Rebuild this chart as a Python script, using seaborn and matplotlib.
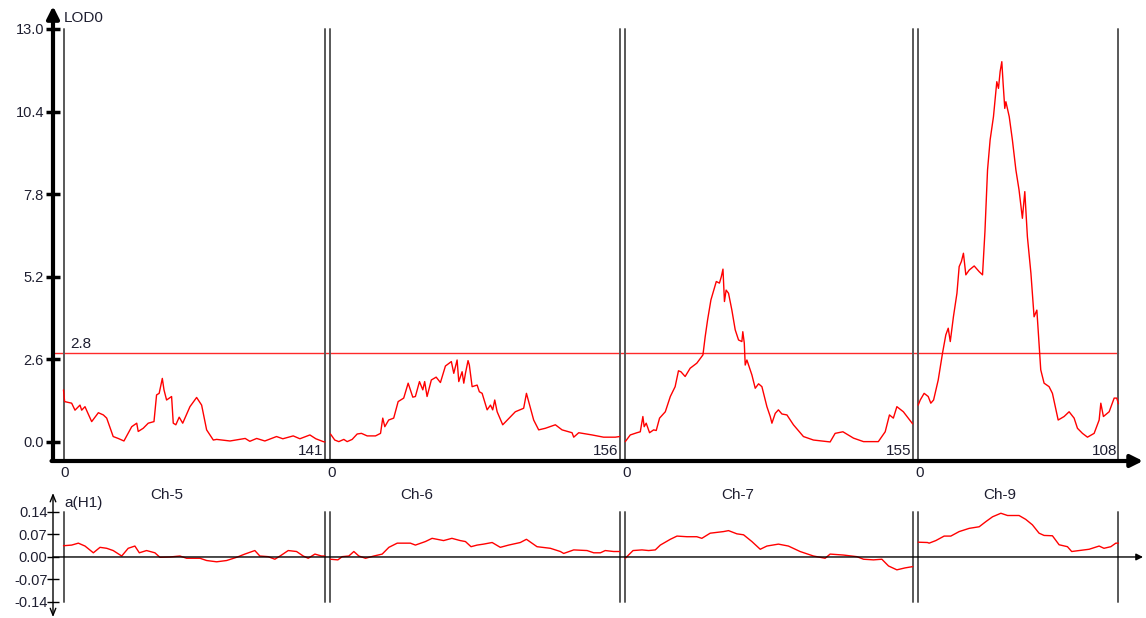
import numpy as np
import pandas as pd
import matplotlib
matplotlib.use("Agg")
import matplotlib.pyplot as plt
import seaborn as sns

# chromosome names and lengths (cM)
chroms = ["Ch-5", "Ch-6", "Ch-7", "Ch-9"]
lengths = [141, 156, 155, 108]
gap = 3.0
threshold = 2.8

# LOD profiles
ch5_pos = [0, 0.6, 4.4, 6.2, 8.9, 9.8, 11.6, 12.8, 15.2, 18.8, 21.5, 23.3, 26.8, 29.5, 32.6, 36.8, 39.5, 40.3, 43.0, 45.7,
           48.8, 50.2, 51.6, 53.3, 54.2, 55.6, 58.3, 59.2, 60.6, 62.4, 64.3, 68.2, 71.8, 74.5, 77.2, 80.8, 82.6, 89.8, 98.0, 100.5,
           104.2, 108.6, 114.9, 118.3, 123.9, 127.5, 132.9, 136.1, 140.1, 141]
ch5_lod = [1.64, 1.27, 1.22, 1.00, 1.16, 1.00, 1.11, 0.95, 0.64, 0.92, 0.85, 0.75, 0.17, 0.11, 0.03, 0.48, 0.59, 0.33, 0.43, 0.59,
           0.64, 1.48, 1.53, 2.00, 1.64, 1.32, 1.43, 0.59, 0.54, 0.78, 0.59, 1.11, 1.40, 1.16, 0.38, 0.06, 0.08, 0.03, 0.11, 0.02,
           0.11, 0.03, 0.17, 0.10, 0.19, 0.10, 0.22, 0.10, 0.01, 0.0]

ch6_pos = [0, 2.3, 4.5, 7.2, 9.0, 11.7, 14.4, 16.7, 19.8, 24.3, 27.0, 28.2, 29.3, 31.4, 34.1, 36.5, 39.5, 41.9, 44.4, 45.8,
           48.0, 49.8, 50.8, 52.1, 54.4, 57.0, 59.3, 62.0, 65.2, 66.5, 68.3, 69.2, 71.0, 71.9, 72.8, 74.2, 74.9, 76.4, 79.1, 80.3,
           81.8, 84.5, 86.3, 87.5, 88.6, 89.9, 92.9, 99.7, 104.2, 105.7, 106.9, 109.6, 112.3, 115.9, 121.3, 124.9, 130.3, 131.2,
           133.9, 141.1, 147.3, 153.6, 156]
ch6_lod = [0.25, 0.06, 0.01, 0.08, 0.01, 0.08, 0.25, 0.27, 0.19, 0.19, 0.27, 0.75, 0.48, 0.69, 0.75, 1.27, 1.38, 1.85, 1.41, 1.43,
           1.90, 1.64, 1.90, 1.43, 1.95, 2.04, 1.87, 2.39, 2.53, 2.16, 2.58, 1.90, 2.21, 1.85, 2.16, 2.56, 2.42, 1.74, 1.79, 1.58,
           1.53, 1.01, 1.16, 1.01, 1.32, 0.95, 0.54, 0.95, 1.06, 1.53, 1.27, 0.69, 0.38, 0.43, 0.54, 0.38, 0.29, 0.15,
           0.29, 0.22, 0.15, 0.15, 0.17]

ch7_pos = [0, 2.7, 6.3, 8.1, 9.5, 10.2, 11.3, 13.1, 15.3, 16.7, 18.5, 21.6, 24.3, 26.9, 28.7, 30.0, 32.3, 35.0, 38.6, 41.9,
           43.1, 44.4, 46.2, 49.1, 50.8, 51.8, 52.7, 53.5, 54.4, 55.7, 57.5, 59.3, 61.1, 62.9, 63.4, 64.2, 64.7, 65.6, 68.3, 70.1,
           71.9, 73.7, 76.4, 78.2, 79.1, 80.9, 82.6, 84.5, 87.2, 90.7, 96.1, 101.5, 110.5, 113.2, 117.4, 123.1, 128.5, 136.5,
           140.2, 142.5, 144.6, 146.5, 150.0, 155]
ch7_lod = [0.01, 0.22, 0.29, 0.32, 0.80, 0.48, 0.59, 0.29, 0.38, 0.36, 0.75, 0.95, 1.43, 1.74, 2.24, 2.21, 2.06, 2.32, 2.48, 2.74,
           3.31, 3.84, 4.47, 5.05, 5.00, 5.20, 5.44, 4.42, 4.78, 4.68, 4.15, 3.53, 3.21, 3.16, 3.47, 3.11, 2.42, 2.58, 2.11, 1.69,
           1.83, 1.74, 1.11, 0.80, 0.59, 0.90, 1.01, 0.88, 0.85, 0.54, 0.17, 0.06, 0.0, 0.27, 0.32, 0.12, 0.01, 0.01,
           0.32, 0.85, 0.75, 1.11, 0.95, 0.57]

ch9_pos = [0, 1.1, 3.2, 5.4, 6.8, 8.3, 10.8, 13.1, 14.9, 16.2, 17.3, 19.0, 20.9, 22.1, 23.3, 24.4, 25.7, 27.5, 30.2, 32.9,
           34.7, 36.0, 37.4, 38.8, 40.6, 42.4, 43.3, 44.2, 45.1, 45.8, 46.7, 47.3, 49.1, 50.8, 52.7, 54.4, 56.2, 57.5, 58.9, 60.8,
           62.5, 64.0, 64.7, 66.1, 67.9, 70.6, 72.4, 75.5, 78.7, 81.4, 84.1, 85.9, 88.6, 91.3, 94.9, 97.6, 98.5, 99.9, 103.0, 105.7,
           107.1, 108]
ch9_lod = [1.16, 1.32, 1.53, 1.43, 1.22, 1.32, 1.95, 2.79, 3.37, 3.58, 3.16, 3.94, 4.68, 5.52, 5.68, 5.94, 5.26, 5.41, 5.54, 5.36,
           5.26, 6.62, 8.56, 9.51, 10.24, 11.34, 11.13, 11.66, 11.97, 11.29, 10.50, 10.71, 10.24, 9.51, 8.56, 7.93, 7.04, 7.88, 6.46, 5.31,
           3.94, 4.15, 3.53, 2.27, 1.85, 1.74, 1.53, 0.69, 0.80, 0.95, 0.75, 0.43, 0.27, 0.15, 0.27, 0.69, 1.22, 0.80, 0.95, 1.38,
           1.38, 1.20]

# additive effect a(H1)
ch5_apos = [0, 4.4, 8.0, 11.6, 16.1, 19.7, 23.3, 26.8, 31.4, 34.9, 38.5, 40.9, 44.8, 49.3, 52.0, 57.4, 62.8, 66.4, 73.6, 77.2,
            82.6, 88.0, 93.4, 97.8, 103.2, 105.9, 110.4, 114.0, 117.6, 121.2, 125.7, 129.3, 132.0, 135.6, 139.2, 141]
ch5_add = [0.035, 0.037, 0.043, 0.034, 0.013, 0.030, 0.027, 0.020, 0.003, 0.027, 0.034, 0.013, 0.020, 0.013, -0.001, 0.0, 0.003,
           -0.004, -0.004, -0.011, -0.015, -0.011, -0.001, 0.009, 0.020, 0.003, 0.001, -0.007, 0.006, 0.020, 0.017, 0.003, -0.004,
           0.009, 0.003, 0.003]

ch6_apos = [0, 4.0, 6.3, 9.9, 12.6, 15.3, 18.9, 23.4, 27.9, 31.5, 36.0, 43.1, 45.8, 51.2, 54.8, 57.5, 61.0, 65.5, 70.0, 72.8,
            75.8, 79.1, 82.6, 87.2, 91.6, 96.1, 102.4, 105.7, 111.4, 118.6, 124.0, 125.8, 131.2, 138.4, 142.0, 145.6, 148.2, 152.7, 156]
ch6_add = [-0.007, -0.009, 0.001, 0.003, 0.017, 0.003, -0.004, 0.003, 0.009, 0.030, 0.043, 0.043, 0.037, 0.048, 0.058, 0.055,
           0.051, 0.058, 0.051, 0.048, 0.032, 0.037, 0.040, 0.045, 0.030, 0.037, 0.045, 0.055, 0.032, 0.027, 0.017, 0.011, 0.022,
           0.020, 0.013, 0.013, 0.020, 0.017, 0.017]

ch7_apos = [0, 4.2, 9.0, 12.6, 16.2, 18.9, 24.3, 27.9, 33.3, 38.6, 41.3, 45.8, 53.0, 55.7, 60.2, 63.8, 68.3, 72.8, 76.4, 82.6,
            88.0, 94.3, 101.5, 107.8, 110.5, 117.7, 124.9, 128.5, 133.9, 138.4, 142.0, 146.5, 150.9, 155]
ch7_add = [-0.004, 0.020, 0.022, 0.020, 0.022, 0.037, 0.055, 0.065, 0.063, 0.063, 0.058, 0.074, 0.079, 0.082, 0.072, 0.069,
           0.048, 0.024, 0.034, 0.040, 0.034, 0.017, 0.003, -0.004, 0.009, 0.006, 0.001, -0.007, -0.009, -0.007, -0.028, -0.040,
           -0.034, -0.030]

ch9_apos = [0, 5.0, 5.9, 9.5, 14.0, 17.6, 22.1, 27.5, 32.9, 36.5, 40.1, 44.6, 48.2, 54.4, 58.0, 61.6, 65.2, 67.9, 72.4, 76.0,
            80.5, 82.8, 86.8, 92.2, 97.6, 100.2, 103.9, 106.6, 108]
ch9_add = [0.046, 0.045, 0.043, 0.051, 0.065, 0.065, 0.079, 0.089, 0.094, 0.110, 0.125, 0.136, 0.129, 0.129, 0.117, 0.100,
           0.074, 0.067, 0.066, 0.038, 0.032, 0.017, 0.020, 0.024, 0.034, 0.027, 0.032, 0.043, 0.043]

lod_ticks = [0.0, 2.6, 5.2, 7.8, 10.4, 13.0]
add_ticks = [-0.14, -0.07, 0.0, 0.07, 0.14]
label_pos = [55.6, 46.6, 60.6, 43.9]   # where the Ch-x names sit inside each chromosome

lod_pos = [ch5_pos, ch6_pos, ch7_pos, ch9_pos]
lod_val = [ch5_lod, ch6_lod, ch7_lod, ch9_lod]
add_pos = [ch5_apos, ch6_apos, ch7_apos, ch9_apos]
add_val = [ch5_add, ch6_add, ch7_add, ch9_add]

# chromosome offsets along the genome axis
offsets = np.concatenate([[0], np.cumsum(np.array(lengths[:-1]) + gap)])

lod_df = pd.concat([pd.DataFrame({"chrom": c, "x": np.array(p) + o, "lod": v})
                    for c, p, v, o in zip(chroms, lod_pos, lod_val, offsets)])
add_df = pd.concat([pd.DataFrame({"chrom": c, "x": np.array(p) + o, "a": v})
                    for c, p, v, o in zip(chroms, add_pos, add_val, offsets)])

sns.set_style("white")
plt.rcParams["font.family"] = ["Liberation Sans", "DejaVu Sans"]
txt = "#1e1e30"
grey = "#585858"
fs_tick = 10.5
fs = 11

W, H = 1146, 618
fig = plt.figure(figsize=(W / 100, H / 100), dpi=100)
px = 1.854
x0 = -10.5 / px
x1 = x0 + 1090 / px
ax = fig.add_axes([53 / W, 1 - 461 / H, 1090 / W, 453 / H])
ax2 = fig.add_axes([53 / W, 1 - 617.1 / H, 1090 / W, 124.1 / H])

# ---- LOD panel
ax.set_xlim(x0, x1)
ax.set_ylim(-0.6, 13.66)
for s in ax.spines.values():
    s.set_visible(False)
ax.set_xticks([])
ax.set_yticks(lod_ticks)
ax.set_yticklabels([f"{t:.1f}" for t in lod_ticks], fontsize=fs_tick, color=txt)
ax.tick_params(axis="y", direction="inout", length=10, width=2.5, color="black", pad=1.5, left=True)

ax.annotate("", xy=(x0, 13.72), xytext=(x0, -0.6), annotation_clip=False,
            arrowprops=dict(arrowstyle="-|>", lw=3, color="black", mutation_scale=18, shrinkA=0, shrinkB=0))
ax.annotate("", xy=(x1, -0.6), xytext=(x0 - 0.8, -0.6), annotation_clip=False,
            arrowprops=dict(arrowstyle="-|>", lw=3, color="black", mutation_scale=18, shrinkA=0, shrinkB=0))

end_all = offsets[-1] + lengths[-1]
ax.plot([x0, end_all], [threshold, threshold], color="#ff2a2a", lw=1)
ax.text(3.7, 3.08, "2.8", fontsize=fs, color=txt, va="center", ha="left")

for c, o, L in zip(chroms, offsets, lengths):
    for xv in (o, o + L):
        ax.plot([xv, xv], [-0.6, 13.0], color=grey, lw=1.4)
    ax.text(o + 0.8, -0.98, "0", fontsize=fs, color=txt, ha="center", va="center")
    ax.text(o + L - 0.7, -0.27, str(L), fontsize=fs, color=txt, ha="right", va="center")

sns.lineplot(data=lod_df, x="x", y="lod", units="chrom", estimator=None, sort=False,
             color="red", lw=1, ax=ax, legend=False)
ax.set_xlabel("")
ax.set_ylabel("")
ax.text(x0 + 10.5 / px + 0.2, 13.66 - 10.5 / 31.77, "LOD0", fontsize=fs, color=txt, ha="left", va="center")

# ---- additive effect panel
ax2.set_xlim(x0, x1)
ax2.set_ylim(-0.187, 0.199)
for s in ax2.spines.values():
    s.set_visible(False)
ax2.set_xticks([])
ax2.set_yticks(add_ticks)
ax2.set_yticklabels([f"{t:.2f}" for t in add_ticks], fontsize=fs_tick, color=txt)
ax2.tick_params(axis="y", direction="inout", length=8, width=1, color="black", pad=0, left=True)

ax2.annotate("", xy=(x0, 0.199), xytext=(x0, -0.187), annotation_clip=False,
             arrowprops=dict(arrowstyle="<->,head_length=0.5,head_width=0.2", lw=1, color="black",
                             shrinkA=0, shrinkB=0))
ax2.annotate("", xy=(x1, 0), xytext=(x0, 0), annotation_clip=False,
             arrowprops=dict(arrowstyle="-|>", lw=1, color="black", mutation_scale=10, shrinkA=0, shrinkB=0))

for c, o, L, lp in zip(chroms, offsets, lengths, label_pos):
    for xv in (o, o + L):
        ax2.plot([xv, xv], [-0.14, 0.14], color=grey, lw=1.4)
    ax2.text(o + lp, 0.194, c, fontsize=fs, color=txt, ha="center", va="center")

sns.lineplot(data=add_df, x="x", y="a", units="chrom", estimator=None, sort=False,
             color="red", lw=1, ax=ax2, legend=False)
ax2.set_xlabel("")
ax2.set_ylabel("")
ax2.text(0.3, 0.168, "a(H1)", fontsize=fs, color=txt, ha="left", va="center")

fig.savefig("out.png", dpi=100)
